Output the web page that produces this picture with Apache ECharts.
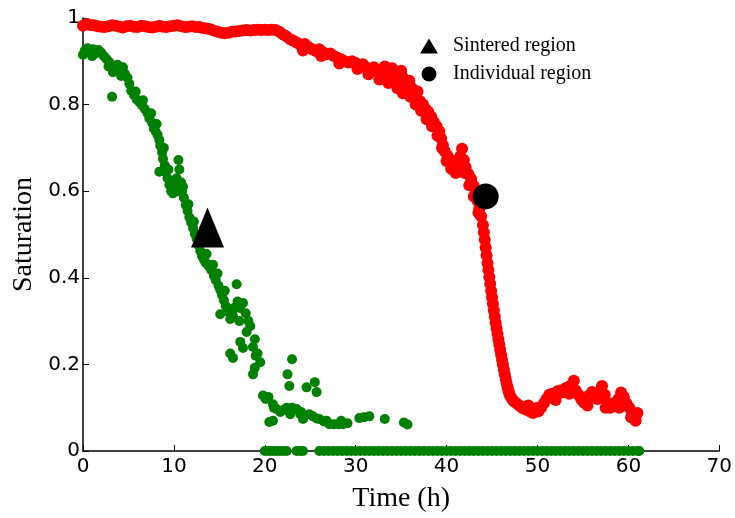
<!DOCTYPE html>
<html>
<head>
<meta charset="utf-8">
<script src="https://cdn.jsdelivr.net/npm/echarts@6/dist/echarts.min.js"></script>
<style>html,body{margin:0;padding:0;background:#fff}#c{width:735px;height:518px}</style>
</head>
<body>
<div id="c"></div>
<script>
// Individual region (red) [time h, saturation]
var redData = [[0,0.982],[0.4,0.986],[0.8,0.984],[1.2,0.983],[1.6,0.981],[2,0.98],[2.4,0.979],[2.8,0.981],[3.2,0.983],[3.6,0.982],[4,0.98],[4.4,0.978],[4.8,0.981],[5.2,0.982],[5.6,0.98],[6,0.979],[6.4,0.982],[6.8,0.981],[7.2,0.979],[7.6,0.978],[8,0.98],[8.4,0.982],[8.8,0.98],[9.2,0.979],[9.6,0.981],[10,0.982],[10.4,0.983],[10.8,0.981],[11.2,0.979],[11.6,0.98],[12,0.981],[12.4,0.979],[12.8,0.979],[13.2,0.977],[13.6,0.976],[14,0.974],[14.4,0.971],[14.8,0.968],[15.2,0.966],[15.6,0.965],[16,0.966],[16.4,0.968],[16.8,0.969],[17.2,0.97],[17.6,0.971],[18,0.972],[18.4,0.971],[18.8,0.972],[19.2,0.973],[19.6,0.972],[20,0.973],[20.4,0.972],[20.8,0.973],[21.2,0.972],[21.6,0.968],[22,0.962],[22.4,0.957],[22.8,0.951],[23.2,0.947],[23.6,0.942],[24,0.936],[24.4,0.94],[24.8,0.933],[25.2,0.928],[25.6,0.924],[26,0.928],[26.4,0.921],[26.8,0.916],[27.2,0.918],[27.6,0.912],[28,0.908],[28.4,0.905],[28.8,0.9],[29.2,0.897],[29.6,0.9],[30,0.896],[30.4,0.89],[30.8,0.893],[31.2,0.885],[31.6,0.879],[32,0.886],[32.4,0.876],[32.8,0.868],[33,0.882],[33.4,0.872],[33.8,0.862],[34.2,0.858],[34.4,0.875],[34.8,0.852],[35.1,0.866],[35.4,0.845],[35.6,0.83],[35.9,0.855],[36.2,0.838],[36.5,0.82],[36.8,0.83],[37.1,0.808],[37.4,0.8],[37.7,0.79],[38,0.783],[38.3,0.772],[38.6,0.76],[38.9,0.75],[39.2,0.738],[39.4,0.722],[39.6,0.706],[39.8,0.692],[40.1,0.682],[40.4,0.672],[40.7,0.664],[41,0.658],[41.3,0.665],[41.5,0.68],[41.7,0.698],[41.9,0.672],[42.1,0.655],[42.4,0.64],[42.7,0.628],[43,0.612],[43.2,0.595],[43.4,0.578],[43.6,0.56],[43.8,0.542],[44,0.522],[44.1,0.505],[44.2,0.488],[44.3,0.47],[44.4,0.452],[44.5,0.434],[44.6,0.418],[44.7,0.402],[44.8,0.386],[44.9,0.37],[45,0.355],[45.1,0.34],[45.2,0.325],[45.3,0.31],[45.4,0.296],[45.5,0.283],[45.6,0.27],[45.7,0.258],[45.8,0.246],[45.9,0.234],[46,0.222],[46.1,0.21],[46.2,0.199],[46.3,0.188],[46.4,0.177],[46.5,0.167],[46.6,0.157],[46.7,0.148],[46.8,0.14],[46.9,0.133],[47,0.127],[47.2,0.12],[47.4,0.115],[47.7,0.11],[48,0.105],[48.3,0.1],[48.6,0.097],[48.9,0.094],[49.2,0.091],[49.5,0.088],[49.8,0.09],[50.1,0.092],[50.4,0.1],[50.7,0.11],[51,0.12],[51.3,0.13],[51.6,0.132],[51.9,0.128],[52.2,0.138],[52.5,0.14],[52.8,0.135],[53.1,0.145],[53.4,0.148],[53.7,0.152],[54,0.162],[54.2,0.14],[54.5,0.13],[54.8,0.12],[55.1,0.112],[55.4,0.118],[55.7,0.128],[56,0.136],[56.3,0.125],[56.6,0.12],[56.9,0.138],[57.1,0.15],[57.4,0.13],[57.7,0.112],[58,0.1],[58.3,0.105],[58.6,0.112],[58.9,0.12],[59.2,0.135],[59.5,0.125],[59.8,0.11],[60.1,0.1],[60.4,0.09],[60.6,0.08],[60.8,0.07],[61,0.088],
  [24.2,0.925],[26.2,0.912],[28.2,0.895],[30.2,0.882],[31.4,0.87],[32.6,0.858],[33.6,0.85],[34.6,0.838],[35.2,0.826],[36,0.818],[36.6,0.8],[37.2,0.786],[37.8,0.766],[38.4,0.75],[39,0.728],[39.5,0.7],[40,0.67],[40.5,0.652],[41,0.642],[41.6,0.66],[42,0.642],[42.5,0.614],[43,0.588],[43.5,0.55],[33.2,0.888],[34,0.884],[35,0.878],[49,0.105],[50,0.1],[52,0.118],[53.5,0.132],[55.5,0.105],[57.5,0.1],[59,0.1],[60.3,0.078]];

// Sintered region (green) [time h, saturation]
var greenData = [[0,0.915],[0.2,0.925],[0.5,0.93],[0.8,0.922],[1.1,0.928],[1.4,0.918],[1.7,0.926],[2,0.92],[2.3,0.912],[2.6,0.905],[2.9,0.898],[3.1,0.89],[3.3,0.875],[3.5,0.882],[3.2,0.818],[3.8,0.892],[4.1,0.88],[4.4,0.886],[4.6,0.872],[4.9,0.862],[5.1,0.848],[5.3,0.832],[5.6,0.822],[5.9,0.812],[6.2,0.806],[6.5,0.798],[6.8,0.79],[7.1,0.78],[7.3,0.768],[7.6,0.758],[7.8,0.745],[8,0.738],[8.2,0.73],[8.4,0.718],[8.5,0.705],[8.7,0.69],[8.8,0.675],[9,0.66],[9.1,0.645],[8.4,0.645],[9.3,0.63],[9.5,0.615],[9.7,0.6],[9.9,0.595],[10.1,0.612],[10.3,0.63],[10.5,0.672],[10.6,0.65],[10.8,0.62],[10.9,0.6],[11.1,0.585],[11.3,0.568],[11.5,0.555],[11.7,0.54],[11.9,0.528],[12.1,0.515],[12.3,0.502],[12.5,0.49],[12.7,0.475],[12.9,0.462],[13.1,0.45],[13.3,0.442],[13.5,0.435],[13.8,0.428],[14.1,0.418],[14.4,0.405],[14.6,0.395],[14.9,0.382],[15.1,0.372],[15.3,0.36],[15.5,0.348],[15.7,0.335],[15.1,0.316],[15.9,0.322],[16.2,0.305],[16.5,0.312],[16.9,0.385],[17,0.345],[17.3,0.33],[17.6,0.342],[17.9,0.318],[18.2,0.3],[18.4,0.288],[16.2,0.225],[16.5,0.215],[17.3,0.252],[17.6,0.238],[18.7,0.24],[18.9,0.258],[19.2,0.225],[19.5,0.205],[18.7,0.177],[18.9,0.192],[19.8,0.128],[20.1,0.12],[20.4,0.125],[20.5,0.067],[20.9,0.07],[20.9,0.108],[21.3,0.097],[21.7,0.09],[22.1,0.095],[22.4,0.1],[23,0.212],[22.5,0.177],[22.7,0.15],[23,0.1],[23.5,0.097],[23.9,0.085],[24.2,0.074],[24.6,0.147],[25.5,0.159],[25.7,0.136],[24.9,0.085],[25.3,0.08],[25.7,0.075],[26,0.074],[26.5,0.068],[27.1,0.062],[27.6,0.062],[28.1,0.062],[28.6,0.062],[29.1,0.064],[30.4,0.076],[30.9,0.078],[31.5,0.08],[33.2,0.074],[35.3,0.066],[35.7,0.061],
  [1,0.912],[2.8,0.888],[4.2,0.866],[5.8,0.83],[6.6,0.81],[7.5,0.78],[8.1,0.755],[8.9,0.7],[9.4,0.65],[10.4,0.6],[11,0.61],[11.6,0.57],[12.2,0.53],[13,0.49],[13.6,0.455],[14.3,0.43],[14.8,0.41],[15.6,0.37],[16.6,0.33],[17.2,0.3],[18,0.275],[19,0.22],[21,0.1],[22.8,0.085],[24,0.09],[26.8,0.07],[28.4,0.07]];

// Sintered region points lying at zero saturation (time h)
var greenZeroX = [20,20.4,20.8,21.2,21.6,22,22.4,23.5,23.9,24.2,26,26.5,27,27.5,28,28.5,29,29.5,30,30.5,31,31.5,32,32.5,33,33.5,34,34.5,35,35.5,36,36.5,37,37.5,38,38.5,39,39.5,40,40.5,41,41.5,42,42.5,43,43.5,44,44.5,45,45.5,46,46.5,47,47.5,48,48.5,49,49.5,50,50.5,51,51.5,52,52.5,53,53.5,54,54.5,55,55.5,56,56.5,57,57.5,58,58.5,59,59.5,60,60.5,61,61.2];

// Highlighted markers
var sinteredMarker = [[13.7, 0.516]];
var individualMarker = [[44.3, 0.588]];

var seriesNames = ['Sintered region', 'Individual region'];
var xTicks = [0, 10, 20, 30, 40, 50, 60, 70];
var yTicks = [0, 0.2, 0.4, 0.6, 0.8, 1];

var chart = echarts.init(document.getElementById('c'), null, {renderer: 'canvas'});
var tickFont = {fontFamily: 'DejaVu Sans', fontSize: 20, color: '#000'};
var greenZero = greenZeroX.map(function (x) { return [x, 0]; });

chart.setOption({
  animation: false,
  backgroundColor: '#fff',
  grid: {left: 83, right: 15, top: 18, bottom: 66, containLabel: false},
  legend: {
    data: seriesNames,
    orient: 'vertical',
    left: 420,
    top: 36,
    padding: 0,
    itemWidth: 18,
    itemHeight: 15,
    itemGap: 8,
    textStyle: {fontFamily: 'Liberation Serif', fontSize: 20, color: '#000', padding: [0, 0, 0, 10]}
  },
  xAxis: {
    type: 'value',
    min: xTicks[0], max: xTicks[xTicks.length - 1], interval: 10,
    name: 'Time (h)', nameLocation: 'middle', nameGap: 34,
    nameTextStyle: {fontFamily: 'Liberation Serif', fontSize: 28, color: '#000'},
    axisLine: {show: true, onZero: false, lineStyle: {color: '#000', width: 1.5}},
    axisTick: {show: true, inside: true, length: 6, lineStyle: {color: '#000', width: 1}},
    axisLabel: Object.assign({margin: 6}, tickFont),
    splitLine: {show: false}
  },
  yAxis: {
    type: 'value',
    min: yTicks[0], max: yTicks[yTicks.length - 1], interval: 0.2,
    name: 'Saturation', nameLocation: 'middle', nameGap: 44, nameRotate: 90,
    nameTextStyle: {fontFamily: 'Liberation Serif', fontSize: 28, color: '#000'},
    axisLine: {show: true, onZero: false, lineStyle: {color: '#000', width: 1.5}},
    axisTick: {show: true, inside: true, length: 6, lineStyle: {color: '#000', width: 1}},
    axisLabel: Object.assign({margin: 3, formatter: function (v) { return String(+v.toFixed(1)); }}, tickFont),
    splitLine: {show: false}
  },
  series: [
    {type: 'scatter', name: 'red', data: redData, symbol: 'circle', symbolSize: 12, itemStyle: {color: '#ff0000', opacity: 1}, clip: false, z: 2},
    {type: 'scatter', name: 'green', data: greenData, symbol: 'circle', symbolSize: 10, itemStyle: {color: '#008000', opacity: 1}, clip: false, z: 2},
    {type: 'scatter', name: 'green0', data: greenZero, symbol: 'circle', symbolSize: 10, itemStyle: {color: '#008000', opacity: 1}, clip: false, z: 3},
    {type: 'scatter', name: seriesNames[0], data: sinteredMarker, symbol: 'triangle', symbolSize: [33, 40], itemStyle: {color: '#000', opacity: 1}, clip: false, z: 5},
    {type: 'scatter', name: seriesNames[1], data: individualMarker, symbol: 'circle', symbolSize: 26, itemStyle: {color: '#000', opacity: 1}, clip: false, z: 5}
  ]
});
</script>
</body>
</html>
